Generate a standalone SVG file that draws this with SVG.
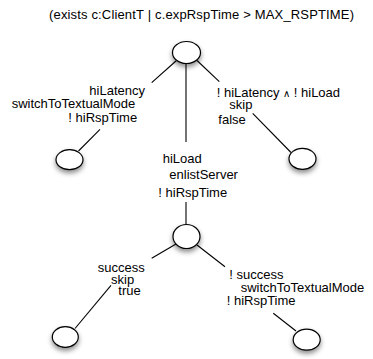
<svg xmlns="http://www.w3.org/2000/svg" width="373" height="359" viewBox="0 0 373 359">
<defs>
<filter id="sh" x="-50%" y="-50%" width="200%" height="220%">
<feDropShadow dx="0" dy="3" stdDeviation="2.5" flood-color="#000" flood-opacity="0.45"/>
</filter>
</defs>
<style>
text{font-family:"Liberation Sans",Arial,sans-serif;font-size:13px;fill:#000}
.n{fill:#fff;stroke:#000;stroke-width:1.2;filter:url(#sh)}
.e{stroke:#000;stroke-width:1.1;fill:none}
</style>
<rect width="373" height="359" fill="#fff"/>
<text x="49" y="19" textLength="305" lengthAdjust="spacing">(exists c:ClientT | c.expRspTime &gt; MAX_RSPTIME)</text>
<g id="connectors">
<line class="e" x1="176.5" y1="60.5" x2="151.7" y2="82.7"/>
<line class="e" x1="100" y1="129.3" x2="78.5" y2="151"/>
<line class="e" x1="186" y1="63.5" x2="186" y2="142"/>
<line class="e" x1="186" y1="202" x2="186" y2="224.5"/>
<line class="e" x1="197" y1="60.5" x2="219.3" y2="81.7"/>
<line class="e" x1="252.7" y1="113.3" x2="291" y2="152.5"/>
<line class="e" x1="176" y1="244" x2="151.7" y2="258.3"/>
<line class="e" x1="111" y1="285.3" x2="75" y2="328.5"/>
<line class="e" x1="197" y1="245" x2="225" y2="266.7"/>
<line class="e" x1="273.3" y1="313.3" x2="296" y2="331"/>
</g>
<g id="labels">
<text x="89.3" y="95">hiLatency</text>
<text x="11.7" y="108.3">switchToTextualMode</text>
<text x="68.3" y="121.7">! hiRspTime</text>
<text x="216.7" y="96.7">! hiLatency <tspan font-size="10">∧</tspan> ! hiLoad</text>
<text x="229.3" y="109.3">skip</text>
<text x="218.3" y="124.3">false</text>
<text x="162.7" y="163.3">hiLoad</text>
<text x="169.3" y="179.3">enlistServer</text>
<text x="158.3" y="196.7">! hiRspTime</text>
<text x="97.7" y="271.7">success</text>
<text x="111" y="283.5">skip</text>
<text x="118.3" y="295">true</text>
<text x="229.3" y="279">! success</text>
<text x="240.7" y="291.7">switchToTextualMode</text>
<text x="226.7" y="305">! hiRspTime</text>
</g>
<g id="n0"><ellipse class="n" cx="186.5" cy="52.5" rx="14" ry="11"/></g>
<g id="n1"><ellipse class="n" cx="69.5" cy="159.7" rx="13.5" ry="10"/></g>
<g id="n2"><ellipse class="n" cx="302.5" cy="158.8" rx="13.5" ry="10.5"/></g>
<g id="n3"><ellipse class="n" cx="186.5" cy="236.5" rx="13.5" ry="12"/></g>
<g id="n4"><ellipse class="n" cx="65.3" cy="337" rx="13" ry="10.3"/></g>
<g id="n5"><ellipse class="n" cx="306.7" cy="339.7" rx="13.5" ry="10.5"/></g>
</svg>
